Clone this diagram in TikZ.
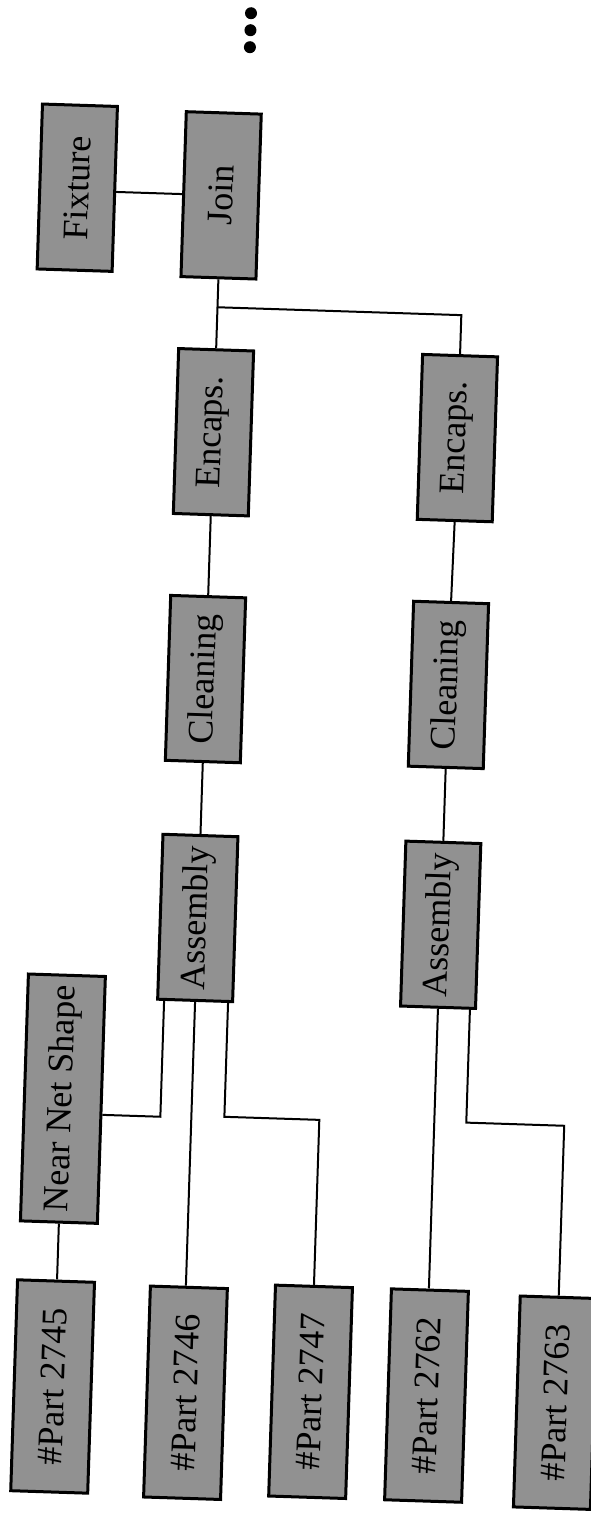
\documentclass[tikz,border=0pt]{standalone}
\usepackage{fontspec}
\setmainfont{Liberation Serif}
\usepackage{graphicx}
\begin{document}
\begin{tikzpicture}[x=0.5pt,y=-0.5pt]
\tikzset{
  box/.style={draw=black, line width=1.5pt, fill=black!43, inner sep=0pt,
    minimum width=37.5pt, minimum height=82.5pt, font=\fontsize{18}{20}\selectfont},
  nnsbox/.style={box, minimum width=38.5pt, minimum height=123.5pt},
  partbox/.style={box, minimum width=38.5pt, minimum height=105.5pt},
  link/.style={line width=1pt},
  dotn/.style={circle, fill=black, draw=none, inner sep=0pt, minimum size=6pt}
}
\fill[white] (0,0) rectangle (590,1516);
\useasboundingbox (0,0) rectangle (590,1516);
\begin{scope}[rotate around={-1.85:(295,758)}, transform shape]
  % dots
  \node[dotn] (d1) at (227,15) {};
  \node[dotn] (d2) at (227,32) {};
  \node[dotn] (d3) at (227,49) {};
  % boxes
  \node[box] (Fixture) at (59,195) {\rotatebox{90}{Fixture}};
  \node[box] (Join) at (203,198) {\rotatebox{90}{Join}};
  \node[box] (EncL) at (203,435) {\rotatebox{90}{Encaps.}};
  \node[box] (EncR) at (447,433) {\rotatebox{90}{Encaps.}};
  \node[box] (CleL) at (203,682) {\rotatebox{90}{Cleaning}};
  \node[box] (CleR) at (446,680) {\rotatebox{90}{Cleaning}};
  \node[box] (AsmL) at (203,921) {\rotatebox{90}{Assembly}};
  \node[box] (AsmR) at (446,920) {\rotatebox{90}{Assembly}};
  \node[nnsbox] (NNS) at (74,1106) {\rotatebox{90}{Near Net Shape}};
  \node[partbox] (P2745) at (73,1394) {\rotatebox{90}{\#Part 2745}};
  \node[partbox] (P2746) at (206,1396) {\rotatebox{90}{\#Part 2746}};
  \node[partbox] (P2747) at (331,1391) {\rotatebox{90}{\#Part 2747}};
  \node[partbox] (P2762) at (447,1391) {\rotatebox{90}{\#Part 2762}};
  \node[partbox] (P2763) at (576,1394) {\rotatebox{90}{\#Part 2763}};
  % helper coordinates
  \coordinate (jn) at (203,310);
  \coordinate (bL) at (172,1121);
  \coordinate (bR) at (236,1119);
  \coordinate (cR) at (478,1117);
  % connectors
  \draw[link] (Join.west) -- (Join.west -| Fixture.east);
  \draw[link] (Join.south) -- (EncL.north);
  \draw[link] (jn) -- (jn -| EncR.north) -- (EncR.north);
  \draw[link] (EncL.south) -- (CleL.north);
  \draw[link] (CleL.south) -- (AsmL.north);
  \draw[link] (EncR.south) -- (CleR.north);
  \draw[link] (CleR.south) -- (AsmR.north);
  \draw[link] (AsmL.south -| bL) -- (bL) -- (bL -| NNS.east);
  \draw[link] (AsmL.south) -- (AsmL.south |- P2746.north);
  \draw[link] (AsmL.south -| bR) -- (bR) -- (bR -| P2747.north) -- (P2747.north);
  \draw[link] (NNS.south) -- (NNS.south |- P2745.north);
  \draw[link] (AsmR.south) -- (AsmR.south |- P2762.north);
  \draw[link] (AsmR.south -| cR) -- (cR) -- (cR -| P2763.north) -- (P2763.north);
\end{scope}
\end{tikzpicture}
\end{document}
